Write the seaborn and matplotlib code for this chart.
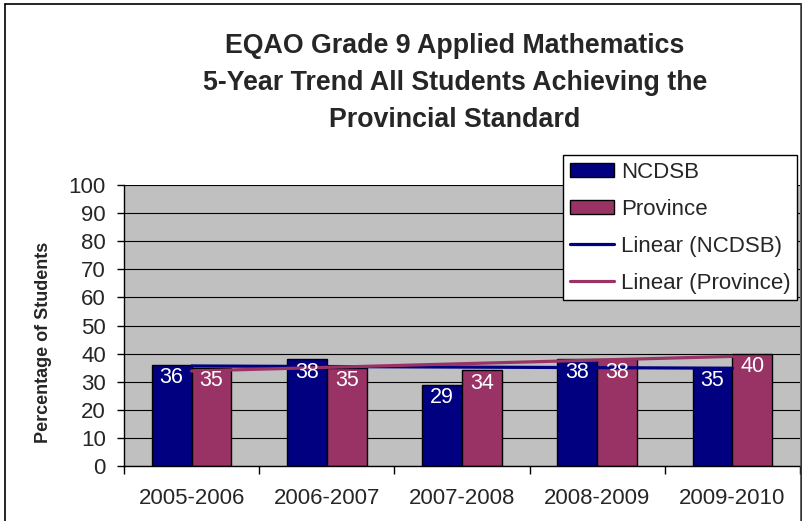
import numpy as np
import pandas as pd
import matplotlib
matplotlib.use("Agg")
import matplotlib.pyplot as plt
from matplotlib.patches import Patch
from matplotlib.lines import Line2D
import seaborn as sns

# chart data
years = ["2005-2006", "2006-2007", "2007-2008", "2008-2009", "2009-2010"]
ncdsb = [36, 38, 29, 38, 35]
province = [35, 35, 34, 38, 40]
series_names = ["NCDSB", "Province"]
y_ticks = list(range(0, 101, 10))

NAVY = "#000080"
PLUM = "#993366"

sns.set_style("white")
plt.rcParams["font.family"] = ["Liberation Sans", "DejaVu Sans"]

df = pd.DataFrame({
    "Year": years * 2,
    "Percent": ncdsb + province,
    "Group": [series_names[0]] * len(years) + [series_names[1]] * len(years),
})

fig = plt.figure(figsize=(8.03, 5.21), dpi=100)
ax = fig.add_axes([124 / 803, 1 - 466 / 521, 676 / 803, 281 / 521])
ax.set_facecolor("#C0C0C0")

sns.barplot(
    data=df, x="Year", y="Percent", hue="Group",
    palette=[NAVY, PLUM], width=0.59, gap=0,
    edgecolor="black", linewidth=1, saturation=1,
    legend=False, ax=ax, zorder=2,
)

# bar value labels, white, just inside the top
for cont in ax.containers:
    ax.bar_label(cont, fmt="%d", padding=-17, color="white",
                 fontsize=15.5, zorder=5)

# linear trend lines (category centres)
xpos = np.arange(len(years))
for vals, col in [(ncdsb, NAVY), (province, PLUM)]:
    sns.regplot(x=xpos, y=np.array(vals, dtype=float), scatter=False,
                ci=None, truncate=True, ax=ax,
                line_kws={"color": col, "linewidth": 2.3, "zorder": 3})

ax.set_xlim(-0.5, len(years) - 0.5)
ax.set_ylim(0, 100)
ax.set_yticks(y_ticks)
ax.set_xticks(xpos)
ax.set_xticklabels(years)
ax.set_xticks(np.arange(-0.5, len(years), 1.0), minor=True)
ax.tick_params(axis="x", which="major", length=0, pad=16, labelsize=16)
ax.tick_params(axis="x", which="minor", length=6, width=1, color="black",
               direction="out", bottom=True)
ax.tick_params(axis="y", length=5, width=1, color="black", direction="out",
               pad=8, labelsize=16, left=True)
ax.yaxis.grid(True, color="black", linewidth=0.8)
ax.set_axisbelow(True)

for side in ["top", "right"]:
    ax.spines[side].set_visible(False)
for side in ["left", "bottom"]:
    ax.spines[side].set_color("black")
    ax.spines[side].set_linewidth(1)

ax.set_xlabel("")
ax.set_ylabel("Percentage of Students", fontsize=13, fontweight="bold")
ax.yaxis.set_label_coords(-0.106, 0.441)

# title
fig.text(455 / 803, 1 - 83 / 521,
         "EQAO Grade 9 Applied Mathematics\n"
         "5-Year Trend All Students Achieving the\n"
         "Provincial Standard",
         ha="center", va="center", multialignment="center",
         fontsize=19.3, fontweight="bold", linespacing=1.55)

# legend
handles = [
    Patch(facecolor=NAVY, edgecolor="black", linewidth=1),
    Patch(facecolor=PLUM, edgecolor="black", linewidth=1),
    Line2D([], [], color=NAVY, linewidth=2.3),
    Line2D([], [], color=PLUM, linewidth=2.3),
]
labels = series_names + ["Linear (NCDSB)", "Linear (Province)"]
leg = ax.legend(handles, labels, loc="upper right",
                bbox_to_anchor=(797 / 803, 1 - 155 / 521),
                bbox_transform=fig.transFigure, fontsize=16,
                frameon=True, fancybox=False, framealpha=1,
                edgecolor="black", borderaxespad=0, borderpad=0.3,
                handlelength=2.0, handleheight=0.6, handletextpad=0.3,
                labelspacing=0.72)
leg.get_frame().set_linewidth(1)
leg.set_zorder(10)

# outer chart border (left, top, right)
fig.add_artist(Line2D([5 / 803, 5 / 803], [0, 1 - 4 / 521],
                      transform=fig.transFigure, color="black", linewidth=1.2))
fig.add_artist(Line2D([5 / 803, 801 / 803], [1 - 4 / 521, 1 - 4 / 521],
                      transform=fig.transFigure, color="black", linewidth=1.2))
fig.add_artist(Line2D([801 / 803, 801 / 803], [0, 1 - 4 / 521],
                      transform=fig.transFigure, color="#333333", linewidth=1.8))

fig.savefig("out.png", dpi=100)
